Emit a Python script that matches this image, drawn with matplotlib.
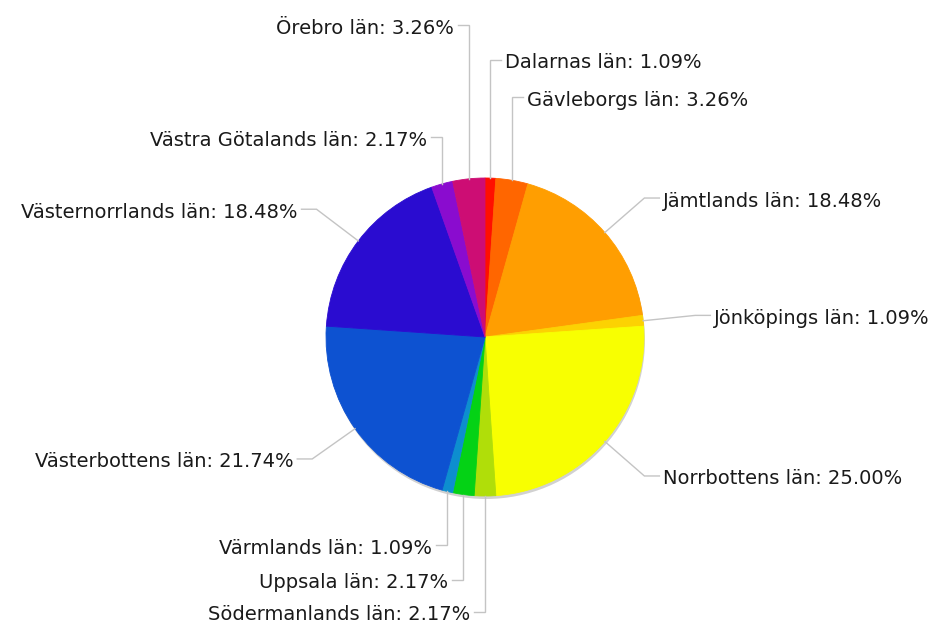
import matplotlib.pyplot as plt
import numpy as np
from matplotlib.patches import Circle

W, H = 941, 626

# counts per county (shares of 92)
names = ["Dalarnas län", "Gävleborgs län", "Jämtlands län", "Jönköpings län",
         "Norrbottens län", "Södermanlands län", "Uppsala län", "Värmlands län",
         "Västerbottens län", "Västernorrlands län", "Västra Götalands län", "Örebro län"]
counts = [1, 3, 17, 1, 23, 2, 2, 1, 20, 17, 2, 3]
colors = ["#FF0F00", "#FF6600", "#FF9E01", "#FCD202", "#F8FF01", "#B0DE09",
          "#04D215", "#0D8ECF", "#0D52D1", "#2A0CD0", "#8A0CCF", "#CD0D74"]

# label row (pixel y) for the stacked labels near top/bottom, None -> radial
label_rows = [60, 97, None, None, None, 612, 580, 545, None, None, 137, 25]

cx, cy, r = 485, 337, 159   # pie centre / radius in pixels (y down)
LINE = "#c4c4c4"

fig = plt.figure(figsize=(W / 100, H / 100), dpi=100)
ax = fig.add_axes([0, 0, 1, 1])

def P(x, y):
    # pixel (y down) -> data coords (y up)
    return x, H - y

# soft shadow under the pie
ax.add_patch(Circle(P(cx + 1, cy + 3), r, color="#000000", alpha=0.18, lw=0, zorder=0))

ax.pie(counts, colors=colors, startangle=90, counterclock=False,
       center=P(cx, cy), radius=r,
       wedgeprops=dict(linewidth=0.6, edgecolor=None))
for w, c in zip(ax.patches[1:], colors):
    w.set_edgecolor(c)

total = sum(counts)
cum = np.cumsum(counts)
for i, name in enumerate(names):
    pct = counts[i] / total * 100
    theta = np.deg2rad(360 * (cum[i] - counts[i] / 2) / total)
    dx, dy = np.sin(theta), -np.cos(theta)
    ex, ey = cx + r * dx, cy + r * dy
    if label_rows[i] is None:
        bx, by = cx + 1.33 * r * dx, cy + 1.33 * r * dy
        seg = 15
    else:
        bx, by = ex, label_rows[i]
        seg = 11
    side = 1 if dx > 1e-9 else -1
    hx = bx + side * seg
    xs, ys = zip(*[P(ex, ey), P(bx, by), P(hx, by)])
    ax.plot(xs, ys, color=LINE, lw=1, zorder=1, solid_joinstyle="miter")
    tx, ty = P(hx + side * 4, by + 3)
    ax.text(tx, ty, f"{name}: {pct:.2f}%", fontsize=14, color="#1a1a1a",
            ha="left" if side > 0 else "right", va="center")

ax.set_xlim(0, W)
ax.set_ylim(0, H)
ax.set_aspect("auto")
ax.axis("off")

fig.savefig("out.png", dpi=100, facecolor="white")
